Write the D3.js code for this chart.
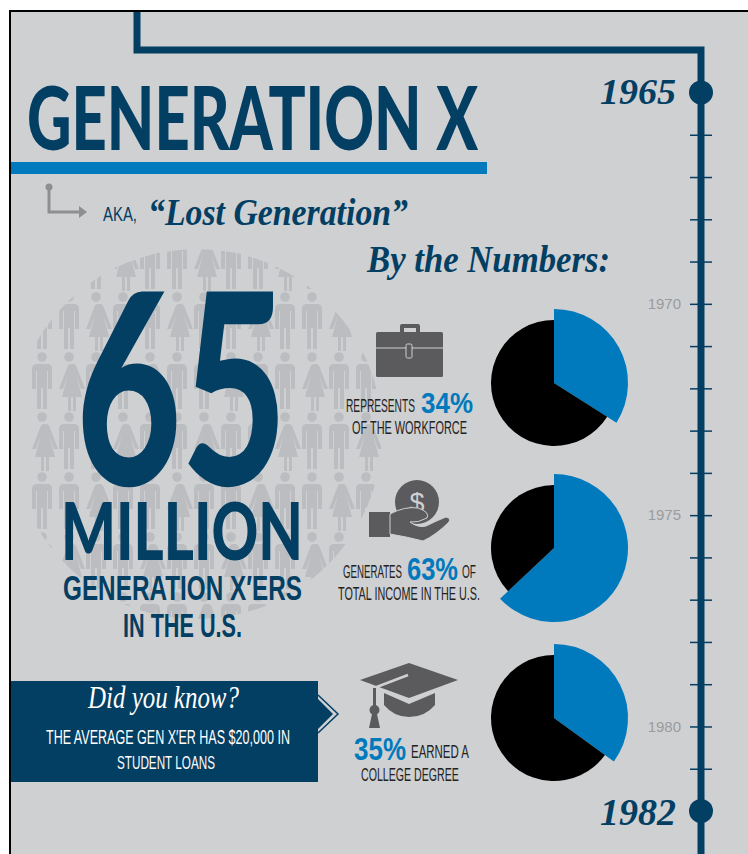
<!DOCTYPE html>
<html>
<head>
<meta charset="utf-8">
<script src="https://cdn.jsdelivr.net/npm/d3@7"></script>
<style>
html, body { margin: 0; padding: 0; background: #fff; overflow: hidden; }
svg { display: block; }
</style>
</head>
<body>
<svg id="chart"></svg>
<script>
// Data
var shareLabels = ["Workforce", "Income", "College degree"];
var shareValues = [34, 63, 35];
var tickYears = [1965, 1966, 1967, 1968, 1969, 1970, 1971, 1972, 1973, 1974,
                 1975, 1976, 1977, 1978, 1979, 1980, 1981, 1982];
var labelledYears = [1970, 1975, 1980];
var endYears = [1965, 1982];
var crowdRows = [0, 1, 2, 3, 4, 5, 6];
var crowdCols = [0, 1, 2, 3, 4, 5, 6, 7, 8, 9, 10, 11, 12];

var width = 748;
var height = 854;
var navy = "#033e63";
var blue = "#0079bd";
var grey = "#5b5b5d";
var paper = "#cfd0d2";
var narrow = "'Liberation Sans Narrow','Liberation Sans',sans-serif";
var heavy = "Lato,'Liberation Sans',sans-serif";
var script = "'Liberation Serif',serif";

var svg = d3.select("#chart").attr("width", width).attr("height", height);

// Paper and thin black frame
svg.append("rect").attr("x", 10).attr("y", 11).attr("width", width).attr("height", height)
    .attr("fill", paper).attr("stroke", "#000").attr("stroke-width", 2);

// Fits a line between two x positions, the font is squeezed to the wanted width
function label(text, x0, x1, base, capH, fill, family, weight, italic) {
  var t = svg.append("text")
      .text(text)
      .attr("font-family", family)
      .attr("font-weight", weight)
      .attr("font-style", italic ? "italic" : "normal")
      .attr("font-size", capH / 0.72)
      .attr("fill", fill);
  var w = t.node().getComputedTextLength();
  t.attr("transform", "translate(" + x0 + "," + base + ") scale(" + (x1 - x0) / w + ",1)");
  return t;
}

// Crowd of little people, cut to a circle
var crowdX = d3.scalePoint().domain(crowdCols).range([42, 366]);
var crowdY = d3.scalePoint().domain(crowdRows).range([237, 597]);
svg.append("clipPath").attr("id", "crowdClip").append("circle")
    .attr("cx", 197).attr("cy", 434).attr("r", 185);

var manPath = "M-5,7 h10 q5,0 5,5 v20 h-4 v-18 h-1 v38 h-4 v-21 h-2 v21 h-4 v-38 h-1 v18 h-4 v-20 q0,-5 5,-5z";
var womanPath = "M-4,7 h8 q3,0 4,4 l8,21 h-4 l-5,-14 l6,22 h-6 v14 h-3 v-14 h-2 v14 h-3 v-14 h-6 l6,-22 l-5,14 h-4 l8,-21 q1,-4 4,-4z";

var crowd = svg.append("g").attr("clip-path", "url(#crowdClip)");
crowdRows.forEach(function(r) {
  var person = crowd.selectAll(null)
      .data(crowdCols)
      .enter().append("g")
      .attr("transform", function(c) { return "translate(" + crowdX(c) + "," + crowdY(r) + ")"; })
      .attr("fill", "#bcbdc0");
  person.append("circle").attr("r", 4.8);
  person.append("path").attr("d", function(c) { return (c + r) % 3 == 0 ? womanPath : manPath; });
});

// Timeline
var yearY = d3.scaleLinear().domain([1965, 1982]).range([92.5, 811]);
svg.append("path")
    .attr("d", "M137,12 V50 H701 V" + height)
    .attr("fill", "none").attr("stroke", navy).attr("stroke-width", 7);

var axis = svg.append("g")
    .attr("transform", "translate(701,0)")
    .call(d3.axisLeft(yearY)
      .tickValues(tickYears)
      .tickSize(10)
      .tickPadding(10)
      .tickFormat(function(d) { return labelledYears.indexOf(d) >= 0 ? d : ""; }));
axis.select(".domain").remove();
axis.selectAll("line").attr("x2", 11).attr("x1", -11).attr("stroke", navy).attr("stroke-width", 1.5);
axis.selectAll("text")
    .attr("font-family", narrow).attr("font-size", 15).attr("fill", "#9a9b9d")
    .attr("x", -20);

svg.selectAll("circle.end")
    .data(endYears)
    .enter().append("circle")
    .attr("class", "end")
    .attr("cx", 701)
    .attr("cy", function(d) { return yearY(d); })
    .attr("r", 12)
    .attr("fill", navy);

label("1965", 600, 676, 104, 26, navy, script, 700, true);
label("1982", 600, 676, 825, 28, navy, script, 700, true);

// Title block
label("GENERATION X", 27, 478, 150, 63, navy, heavy, 900);
svg.append("rect").attr("x", 11).attr("y", 162).attr("width", 476).attr("height", 12).attr("fill", blue);

svg.append("path").attr("d", "M49,187 V212 H79").attr("fill", "none").attr("stroke", "#8e8f91").attr("stroke-width", 3);
svg.append("circle").attr("cx", 49).attr("cy", 187).attr("r", 3.5).attr("fill", "#8e8f91");
svg.append("path").attr("d", "M79,206 L87,212 L79,218 Z").attr("fill", "#8e8f91");

label("AKA,", 103, 137, 221, 15, navy, narrow, 400);
label("\u201cLost Generation\u201d", 148, 408, 225, 27, navy, script, 700, true);
label("By the Numbers:", 367, 610, 272, 28, navy, script, 700, true);

// 65 million block
label("65", 76, 287, 485, 192, navy, heavy, 900);
label("MILLION", 61, 303, 560, 58, navy, heavy, 900);
label("GENERATION X\u2032ERS", 63, 302, 600, 25, navy, narrow, 700);
label("IN THE U.S.", 123, 242, 637, 24, navy, narrow, 700);

// Pies
var pieCenters = [[554, 383], [554, 548], [554, 718]];
var pie = d3.pie().sort(null);
var blackArc = d3.arc().innerRadius(0).outerRadius(63);
var blueArc = d3.arc().innerRadius(0).outerRadius(74);

shareValues.forEach(function(v, i) {
  var g = svg.append("g")
      .attr("class", "pie")
      .attr("transform", "translate(" + pieCenters[i] + ")");
  g.selectAll("path")
      .data(pie([v, 100 - v]))
      .enter().append("path")
      .attr("d", function(d) { return d.index == 0 ? blueArc(d) : blackArc(d); })
      .attr("fill", function(d) { return d.index == 0 ? blue : "#000"; });
});

// Briefcase
svg.append("path").attr("d", "M400,332 v-6 q0,-2 2,-2 h16 q2,0 2,2 v6 h-4 v-4 h-12 v4z").attr("fill", grey);
svg.append("rect").attr("x", 376).attr("y", 332).attr("width", 67).attr("height", 45).attr("rx", 1.5).attr("fill", grey);
svg.append("line").attr("x1", 376).attr("x2", 443).attr("y1", 348).attr("y2", 348).attr("stroke", paper).attr("stroke-width", 1);
svg.append("rect").attr("x", 406).attr("y", 344).attr("width", 6).attr("height", 14).attr("rx", 1.5)
    .attr("fill", grey).attr("stroke", paper).attr("stroke-width", 1);

label("REPRESENTS", 346, 415, 412, 13, "#222", narrow, 400);
label("34%", 421, 473, 413, 21, blue, narrow, 700);
label("OF THE WORKFORCE", 352, 467, 434, 13, "#222", narrow, 400);

// Hand with coin
svg.append("circle").attr("cx", 417).attr("cy", 502).attr("r", 22).attr("fill", grey);
svg.append("text").text("$").attr("x", 417).attr("y", 512).attr("text-anchor", "middle")
    .attr("font-family", narrow).attr("font-size", 27).attr("fill", paper);
svg.append("rect").attr("x", 369).attr("y", 512).attr("width", 21).attr("height", 25).attr("fill", grey);
svg.append("path")
    .attr("d", "M390,514 Q405,506 418,508 Q430,512 427,518 Q418,523 410,522 Q418,528 426,526 Q438,520 446,517 Q451,518 449,522 Q436,535 423,541 Q408,537 390,534 Z")
    .attr("fill", grey).attr("stroke", paper).attr("stroke-width", 1);

label("GENERATES", 343, 402, 578, 13, "#222", narrow, 400);
label("63%", 407, 458, 580, 22, blue, narrow, 700);
label("OF", 462, 476, 578, 13, "#222", narrow, 400);
label("TOTAL INCOME IN THE U.S.", 338, 480, 600, 13, "#222", narrow, 400);

// Did you know banner
svg.append("rect").attr("x", 11).attr("y", 681).attr("width", 307).attr("height", 101).attr("fill", navy);
svg.append("path").attr("d", "M318,695 L338,714 L318,733").attr("fill", "none").attr("stroke", navy).attr("stroke-width", 1.5);
svg.append("path").attr("d", "M318,699 L333,714 L318,729 Z").attr("fill", navy);
label("Did you know?", 88, 239, 708, 22, "#fff", script, 400, true);
label("THE AVERAGE GEN X\u2032ER HAS $20,000 IN", 46, 290, 744, 15, "#fff", narrow, 400);
label("STUDENT LOANS", 117, 215, 769, 13, "#fff", narrow, 400);

// Graduation cap
svg.append("path").attr("d", "M384,693 L409,704 L435,693 V705 Q425,717 409,717 Q394,717 384,705 Z").attr("fill", grey);
svg.append("path").attr("d", "M360,680 L409,663 L458,680 L409,698 Z").attr("fill", grey);
svg.append("path").attr("d", "M374,688 L408,675").attr("stroke", paper).attr("stroke-width", 2.5).attr("fill", "none");
svg.append("rect").attr("x", 373).attr("y", 688).attr("width", 3).attr("height", 20).attr("fill", grey);
svg.append("circle").attr("cx", 374.5).attr("cy", 710).attr("r", 5).attr("fill", grey);
svg.append("path").attr("d", "M372,714 h5 l3,14 h-11z").attr("fill", grey);

label("35%", 354, 406, 760, 22, blue, narrow, 700);
label("EARNED A", 411, 469, 758, 13, "#222", narrow, 400);
label("COLLEGE DEGREE", 361, 459, 781, 13, "#222", narrow, 400);
</script>
</body>
</html>
